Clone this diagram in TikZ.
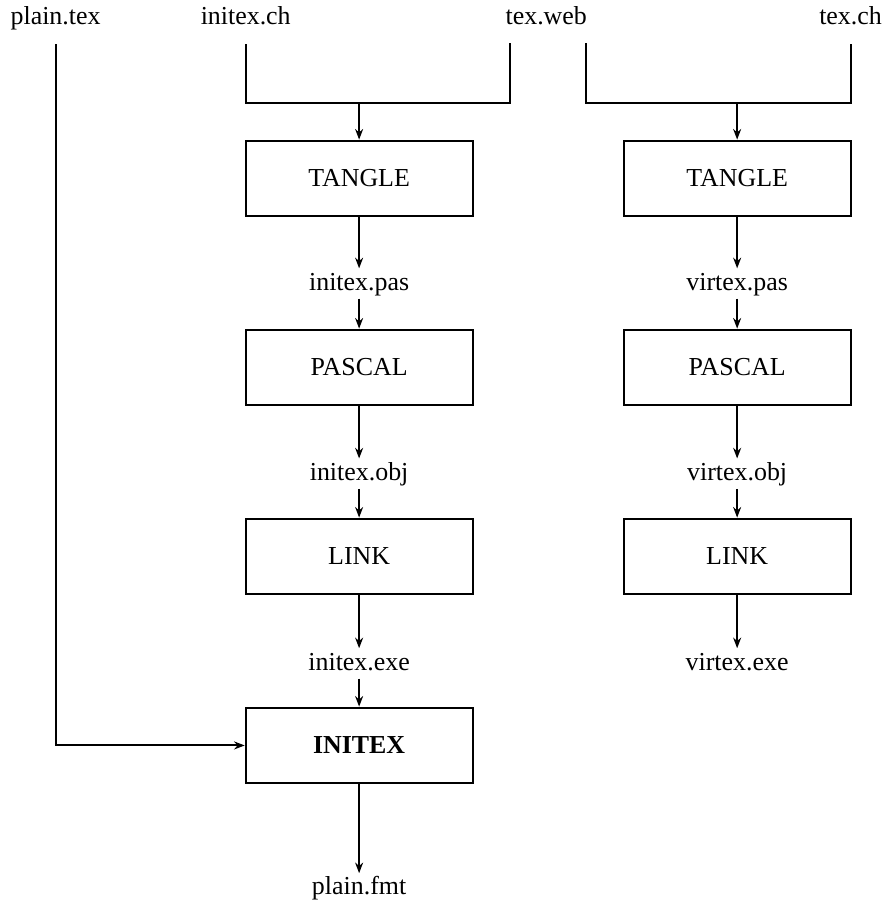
\documentclass[tikz,border=0pt]{standalone}
\usepackage{fontspec}
\setmainfont{Liberation Serif}
\usetikzlibrary{arrows.meta}
\begin{document}
\begin{tikzpicture}[line width=1.5pt,
	every node/.style={font=\fontsize{19.5}{23}\selectfont},
	box/.style={draw,minimum width=6cm,minimum height=2cm,inner sep=0pt},
	file/.style={inner sep=0pt,text height=0.55cm,text depth=0.2cm},
	flow/.style={-{Stealth[length=8pt,width=6pt]}}]
	\useasboundingbox (0,0) rectangle (23.33,-24.02);
	\node[file] (plaintex) at (1.47,-0.48) {plain.tex};
	\node[file] (initexch) at (6.5,-0.48) {initex.ch};
	\node[file] (texweb) at (14.45,-0.48) {tex.web};
	\node[file] (texch) at (22.5,-0.48) {tex.ch};
	\coordinate (joinA) at (9.5,-2.72);
	\coordinate (joinB) at (19.5,-2.72);
	\coordinate (webA) at (13.5,-1.14);
	\coordinate (webB) at (15.5,-1.14);
	% initex column
	\node[box] (tangleA) at (9.5,-4.72) {TANGLE};
	\node[file] (pasA) at (9.5,-7.5) {initex.pas};
	\node[box] (pascalA) at (9.5,-9.72) {PASCAL};
	\node[file] (objA) at (9.5,-12.53) {initex.obj};
	\node[box] (linkA) at (9.5,-14.72) {LINK};
	\node[file] (exeA) at (9.5,-17.55) {initex.exe};
	\node[box] (initex) at (9.5,-19.72) {\textbf{INITEX}};
	\node[file] (fmt) at (9.5,-23.5) {plain.fmt};
	% virtex column
	\node[box] (tangleB) at (19.5,-4.72) {TANGLE};
	\node[file] (pasB) at (19.5,-7.5) {virtex.pas};
	\node[box] (pascalB) at (19.5,-9.72) {PASCAL};
	\node[file] (objB) at (19.5,-12.53) {virtex.obj};
	\node[box] (linkB) at (19.5,-14.72) {LINK};
	\node[file] (exeB) at (19.5,-17.55) {virtex.exe};
	% inputs
	\draw[flow] ([yshift=-0.285cm]plaintex.south) |- (initex.west);
	\draw ([yshift=-0.285cm]initexch.south) |- (joinA) -| (webA);
	\draw (webB) |- (joinB) -| ([yshift=-0.285cm]texch.south);
	\draw[flow] (joinA) -- (tangleA);
	\draw[flow] (joinB) -- (tangleB);
	% steps
	\draw[flow] (tangleA) -- (pasA);
	\draw[flow] (pasA) -- (pascalA);
	\draw[flow] (pascalA) -- (objA);
	\draw[flow] (objA) -- (linkA);
	\draw[flow] (linkA) -- (exeA);
	\draw[flow] (exeA) -- (initex);
	\draw[flow] (initex) -- (fmt);
	\draw[flow] (tangleB) -- (pasB);
	\draw[flow] (pasB) -- (pascalB);
	\draw[flow] (pascalB) -- (objB);
	\draw[flow] (objB) -- (linkB);
	\draw[flow] (linkB) -- (exeB);
\end{tikzpicture}
\end{document}
